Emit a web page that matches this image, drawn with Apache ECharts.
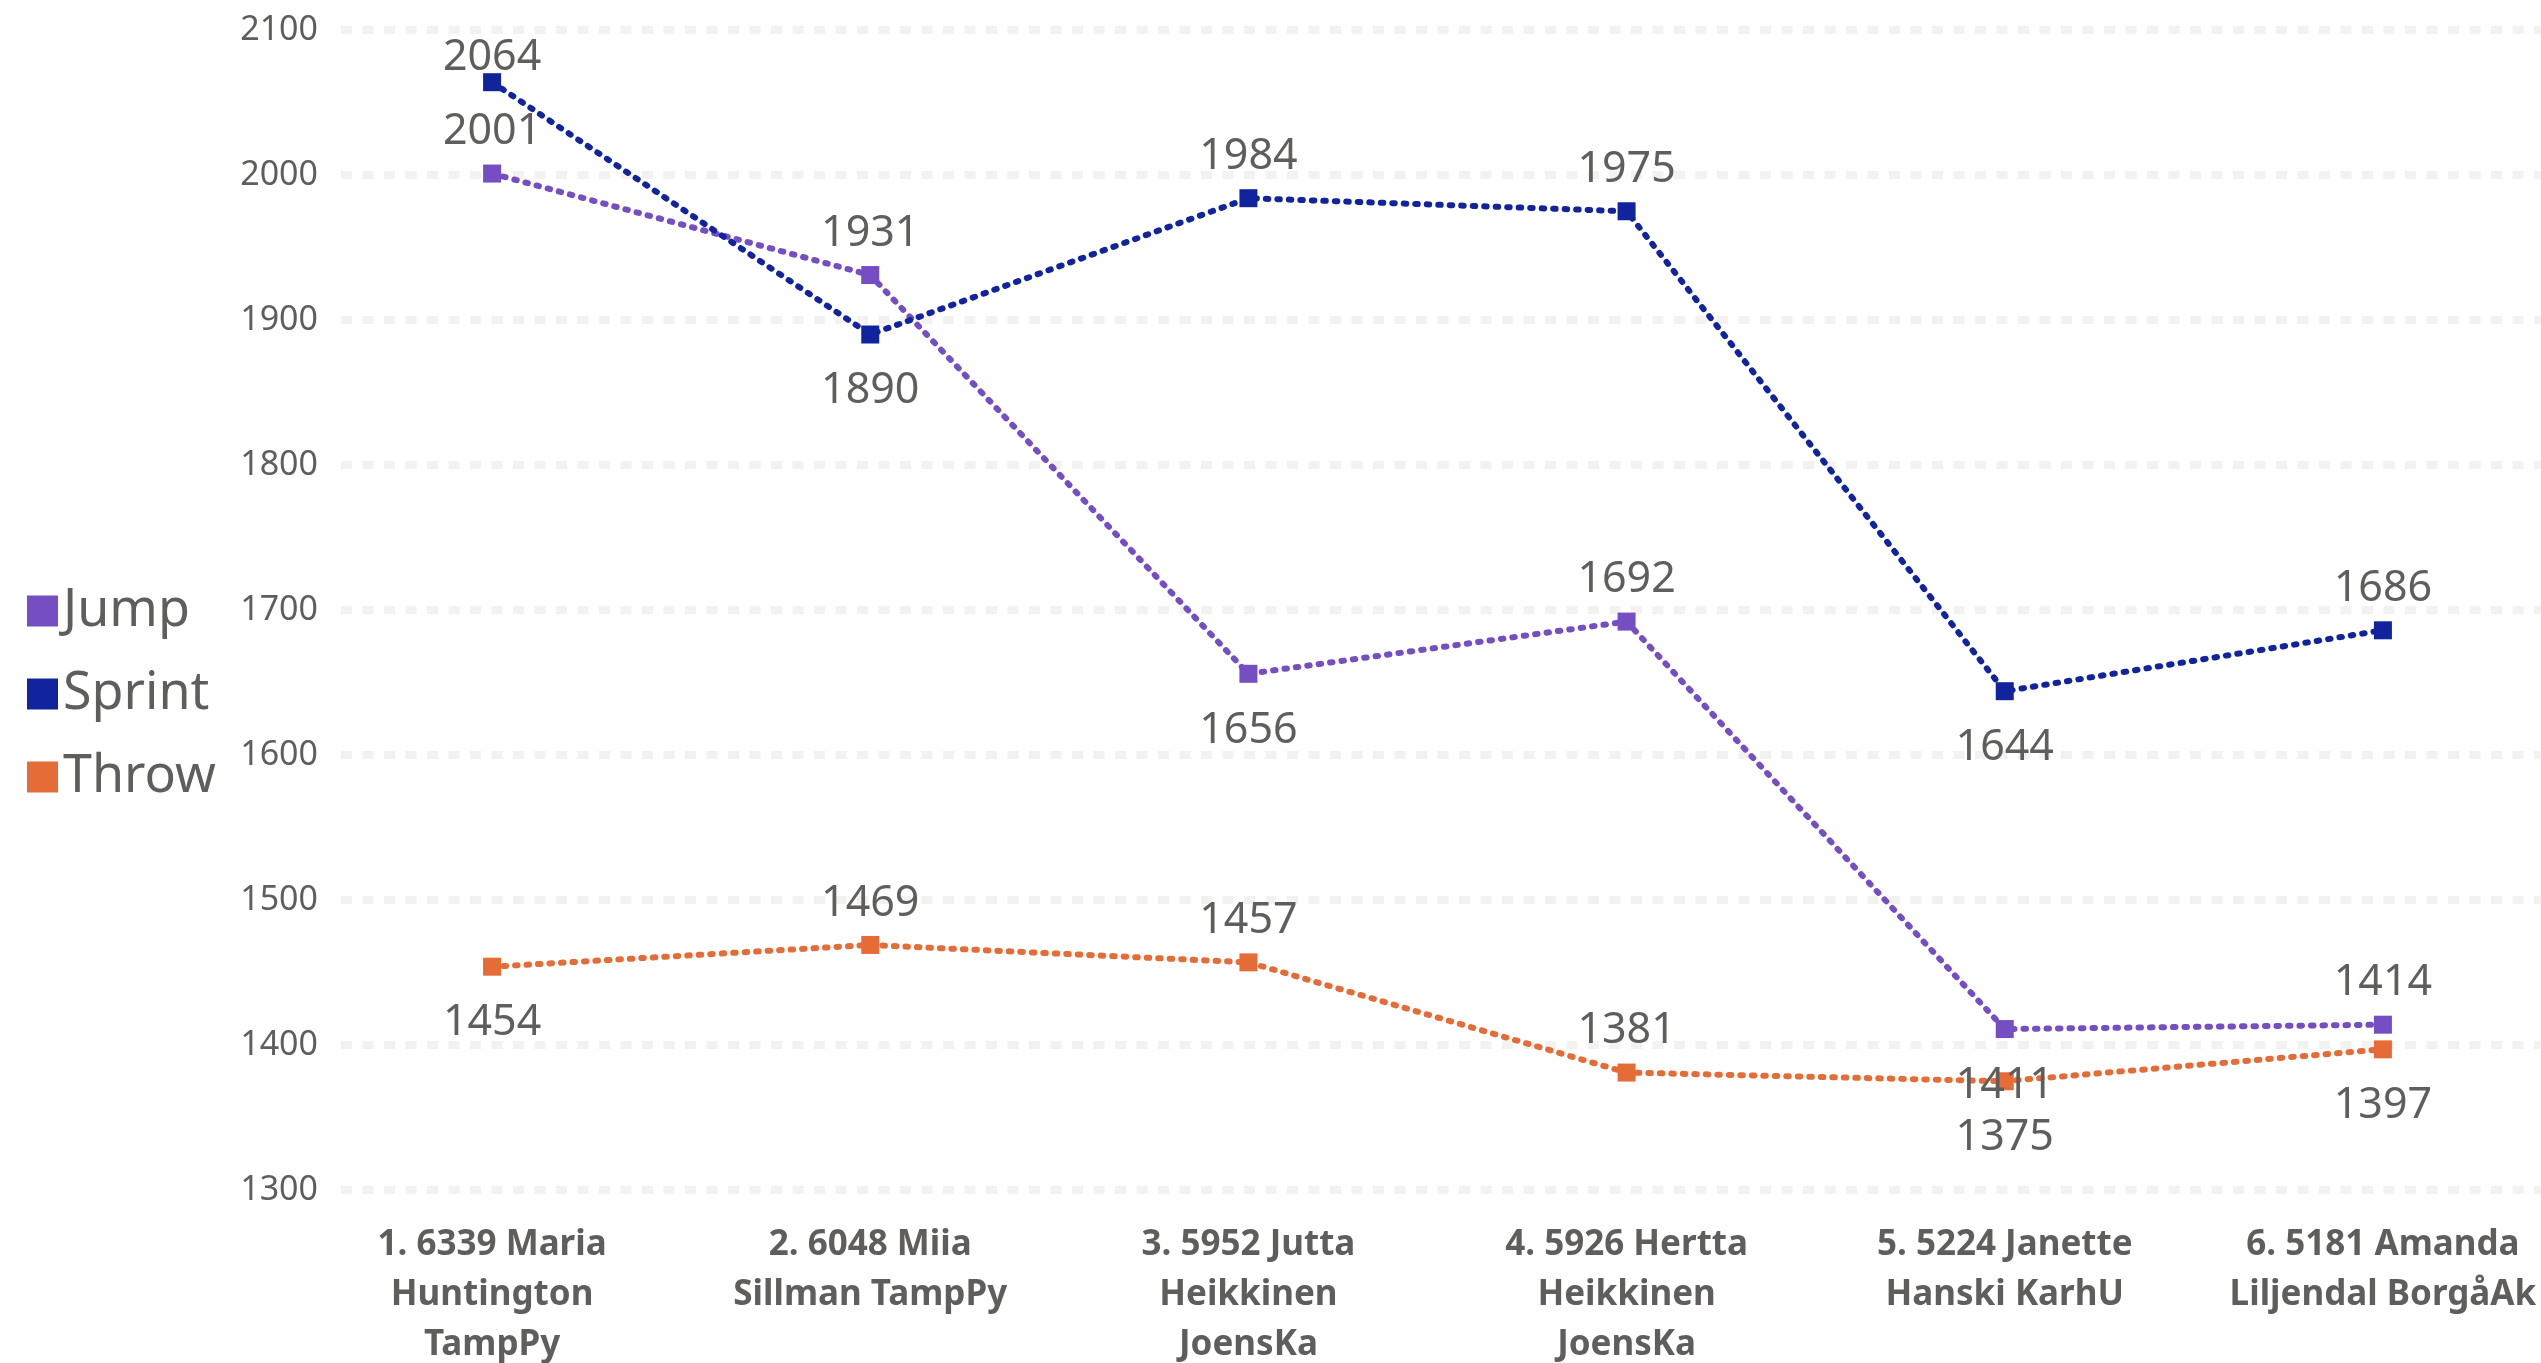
<!DOCTYPE html>
<html>
<head>
<meta charset="utf-8">
<script src="https://cdn.jsdelivr.net/npm/echarts@6/dist/echarts.min.js"></script>
<style>
  html, body { margin: 0; padding: 0; background: #fff; }
  #chart { width: 2541px; height: 1363px; }
</style>
</head>
<body>
<div id="chart"></div>
<script>
  // athletes, wrapped the way the axis shows them
  var categories = [
    '1. 6339 Maria\nHuntington\nTampPy',
    '2. 6048 Miia\nSillman TampPy',
    '3. 5952 Jutta\nHeikkinen\nJoensKa',
    '4. 5926 Hertta\nHeikkinen\nJoensKa',
    '5. 5224 Janette\nHanski KarhU',
    '6. 5181 Amanda\nLiljendal BorgåAk'
  ];
  var jump = [2001, 1931, 1656, 1692, 1411, 1414];
  var sprint = [2064, 1890, 1984, 1975, 1644, 1686];
  var throwPts = [1454, 1469, 1457, 1381, 1375, 1397];

  // which side of the point each value label sits
  var jumpLabelPos = ['top', 'top', 'bottom', 'top', 'bottom', 'top'];
  var sprintLabelPos = ['top', 'bottom', 'top', 'top', 'bottom', 'top'];
  var throwLabelPos = ['bottom', 'top', 'top', 'top', 'bottom', 'bottom'];

  var yMin = 1300, yMax = 2100, yStep = 100;

  var font = '"Segoe UI", "Noto Sans", sans-serif';
  var grey = '#605E5C';

  function withLabels(values, positions) {
    return values.map(function (v, i) {
      var top = positions[i] === 'top';
      var dist = top ? 11 : 26;
      // labels close to the top edge get pushed down into the plot
      if (top && yMax - v < 50) dist = -6;
      return {
        value: v,
        label: {position: positions[i], distance: dist}
      };
    });
  }

  function lineSeries(name, color, values, positions) {
    return {
      name: name,
      type: 'line',
      xAxisIndex: 1,
      yAxisIndex: 1,
      symbol: 'rect',
      symbolSize: 18,
      itemStyle: {color: color},
      lineStyle: {color: color, width: 6, type: [2.5, 9], cap: 'round'},
      label: {
        show: true,
        color: grey,
        fontSize: 43,
        fontFamily: font
      },
      emphasis: {disabled: true},
      animation: false,
      data: withLabels(values, positions)
    };
  }

  var chart = echarts.init(document.getElementById('chart'));
  chart.setOption({
    backgroundColor: '#fff',
    legend: {
      orient: 'vertical',
      left: 22,
      top: 576,
      icon: 'rect',
      itemWidth: 31,
      itemHeight: 31,
      itemGap: 23,
      itemTextGap: 11,
      textStyle: {color: grey, fontSize: 52, fontFamily: font, lineHeight: 60},
      data: ['Jump', 'Sprint', 'Throw']
    },
    grid: [
      // grid 0 only carries the y labels and dotted split lines
      {left: 341, right: 0, top: 30, bottom: 173, outerBoundsMode: 'none'},
      // grid 1 carries the series and the category labels
      {left: 303, width: 2269, top: 30, bottom: 173, outerBoundsMode: 'none'}
    ],
    xAxis: [
      {gridIndex: 0, type: 'category', data: categories, show: false},
      {
        gridIndex: 1,
        type: 'category',
        data: categories,
        axisLine: {show: false},
        axisTick: {show: false},
        axisLabel: {
          interval: 0,
          margin: 30,
          color: grey,
          fontSize: 35,
          fontWeight: 'bold',
          fontFamily: font,
          lineHeight: 50
        }
      }
    ],
    yAxis: [
      {
        gridIndex: 0,
        type: 'value',
        min: yMin,
        max: yMax,
        interval: yStep,
        axisLine: {show: false},
        axisTick: {show: false},
        axisLabel: {
          margin: 23,
          color: grey,
          fontSize: 34,
          fontFamily: font,
          formatter: function (v) { return String(v); }
        },
        splitLine: {lineStyle: {color: '#F3F2F1', width: 8, type: [11, 10.5]}}
      },
      {
        gridIndex: 1,
        type: 'value',
        min: yMin,
        max: yMax,
        interval: yStep,
        show: false,
        splitLine: {show: false}
      }
    ],
    series: [
      lineSeries('Jump', '#744EC2', jump, jumpLabelPos),
      lineSeries('Sprint', '#12239E', sprint, sprintLabelPos),
      lineSeries('Throw', '#E66C37', throwPts, throwLabelPos)
    ]
  });
</script>
</body>
</html>
